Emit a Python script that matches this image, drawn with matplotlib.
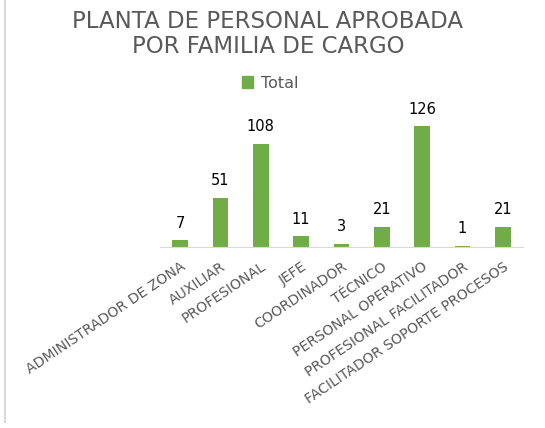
import matplotlib
matplotlib.use("Agg")
import matplotlib.pyplot as plt
from matplotlib.patches import Patch
from matplotlib.lines import Line2D

# data
categories = ["ADMINISTRADOR DE ZONA", "AUXILIAR", "PROFESIONAL", "JEFE",
              "COORDINADOR", "TÉCNICO", "PERSONAL OPERATIVO",
              "PROFESIONAL FACILITADOR", "FACILITADOR SOPORTE PROCESOS"]
totals = [7, 51, 108, 11, 3, 21, 126, 1, 21]

green = "#70AD47"
grey = "#595959"

W, H = 545, 428
fig = plt.figure(figsize=(W / 100, H / 100), dpi=100)
ax = fig.add_axes([160 / W, (H - 247) / H, (523 - 160) / W, (247 - 100) / H])

x = range(len(categories))
bars = ax.bar(x, totals, width=0.39, color=green)
for rect, v in zip(bars, totals):
    ax.annotate(str(v), (rect.get_x() + rect.get_width() / 2, v),
                xytext=(0, 7), textcoords="offset points",
                ha="center", va="bottom", fontsize=10.5, color="black")

ax.set_xlim(-0.5, len(categories) - 0.5)
ax.set_ylim(0, 153.6)
ax.set_yticks([])
ax.set_xticks(list(x))
ax.set_xticklabels(categories, rotation=34, ha="right", rotation_mode="anchor",
                   fontsize=10.1, color=grey)
ax.tick_params(axis="x", length=0, pad=9)
for s in ["top", "right", "left"]:
    ax.spines[s].set_visible(False)
ax.spines["bottom"].set_color("#D9D9D9")

fig.text(268 / W, 1 - 34 / H, "PLANTA DE PERSONAL APROBADA\nPOR FAMILIA DE CARGO",
         ha="center", va="center", fontsize=16.5, color=grey, linespacing=1.15)

fig.legend(handles=[Patch(color=green, label="Total")], loc="center",
           bbox_to_anchor=(270 / W, 1 - 83 / H), frameon=False,
           fontsize=11.5, labelcolor=grey, handlelength=0.7, handleheight=0.7,
           handletextpad=0.5)

# thin frame line on the left edge
fig.add_artist(Line2D([5 / W, 5 / W], [1 - 422 / H, 1], color="#D9D9D9", lw=1.5))

fig.savefig("out.png", dpi=100)
